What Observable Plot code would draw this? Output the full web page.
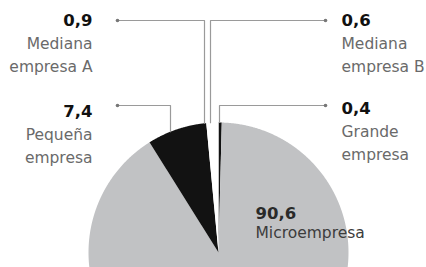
<!DOCTYPE html>
<html><head><meta charset="utf-8">
<script src="https://cdn.jsdelivr.net/npm/d3@7"></script>
<script src="https://cdn.jsdelivr.net/npm/@observablehq/plot@0.6"></script>
<style>body{margin:0;background:#fff} svg{display:block}</style>
</head><body><div id="chart"></div>
<script>
// ---- data ----
const categories = ["Grande empresa", "Microempresa", "Pequeña empresa", "Mediana empresa A", "Mediana empresa B"];
const values = [0.4, 90.6, 7.4, 0.9, 0.6];
const valueLabels = ["0,4", "90,6", "7,4", "0,9", "0,6"];
const nameLines = [["Grande", "empresa"], ["Microempresa"], ["Pequeña", "empresa"], ["Mediana", "empresa A"], ["Mediana", "empresa B"]];

// ---- styling / layout ----
const sliceColors = ["#121212", "#c1c2c4", "#121212", "#ffffff", "#ffffff"];
const W = 426, H = 267, cx = 218, cy = 252, R = 130;
const labelX = [341, 255, 92, 92, 341];
const labelY = [113, 218, 116, 25, 25];
const labelAnchor = ["start", "start", "end", "end", "start"];
const nameColor = ["#6a6a6a", "#3c3c3c", "#6a6a6a", "#6a6a6a", "#6a6a6a"];
const numColor = ["#111", "#2a2a2a", "#111", "#111", "#111"];
const leaderY = [105, null, 105, 20, 20];
const leaderEndX = [325, null, 117, 117, 325];
const leaderDropX = [219, null, 170, 204, 210];
const lineGap = 23;

// ---- pie geometry ----
const arcs = d3.pie().sort(null).value(d => d)(values);
const pt = a => ({x: cx + R * Math.sin(a), y: cy - R * Math.cos(a)});
const slices = arcs.map((a, i) => {
  const pts = [{x: cx, y: cy}];
  const n = Math.max(2, Math.ceil((a.endAngle - a.startAngle) / 0.005));
  for (let k = 0; k <= n; k++) pts.push(pt(a.startAngle + (a.endAngle - a.startAngle) * k / n));
  pts.push({x: cx, y: cy});
  return {pts, color: sliceColors[i]};
});

// leaders
const leaders = [];
const leaderDots = [];
categories.forEach((c, i) => {
  if (leaderY[i] == null) return;
  const dx = leaderDropX[i] - cx;
  const yEdge = cy - Math.sqrt(R * R - dx * dx);
  leaders.push({id: c, x: leaderEndX[i], y: leaderY[i]});
  leaders.push({id: c, x: leaderDropX[i], y: leaderY[i]});
  leaders.push({id: c, x: leaderDropX[i], y: yEdge});
  leaderDots.push({x: leaderEndX[i], y: leaderY[i]});
});

// text rows
const numRows = categories.map((c, i) => ({x: labelX[i], y: labelY[i], t: valueLabels[i], a: labelAnchor[i], f: numColor[i]}));
const nameRows = categories.flatMap((c, i) => nameLines[i].map((t, k) => ({x: labelX[i], y: labelY[i] + lineGap * (k + 1) - (i === 1 ? 4 : 0), t, a: labelAnchor[i], f: nameColor[i]})));

const font = "DejaVu Sans";
const marks = [
  ...slices.map(s => Plot.line(s.pts, {x: "x", y: "y", fill: s.color, stroke: "none"})),
  Plot.line(leaders, {x: "x", y: "y", z: "id", stroke: "#9a9a9a", strokeWidth: 1.2}),
  Plot.dot(leaderDots, {x: "x", y: "y", r: 1.8, fill: "#777", stroke: "none"}),
  ...["start", "end"].flatMap(anchor => [
    Plot.text(numRows.filter(d => d.a === anchor), {x: "x", y: "y", text: "t", fill: "f", textAnchor: anchor, lineAnchor: "bottom", fontSize: 16.5, fontWeight: "bold", fontFamily: font}),
    Plot.text(nameRows.filter(d => d.a === anchor), {x: "x", y: "y", text: "t", fill: "f", textAnchor: anchor, lineAnchor: "bottom", fontSize: 15.5, fontFamily: font})
  ])
];

const chart = Plot.plot({
  width: W, height: H,
  margin: 0,
  x: {domain: [0, W], range: [0, W], axis: null},
  y: {domain: [0, H], range: [0, H], axis: null},
  color: {type: "identity"},
  style: {fontFamily: font, background: "#fff"},
  marks
});
document.getElementById("chart").append(chart);
</script>
</body></html>
